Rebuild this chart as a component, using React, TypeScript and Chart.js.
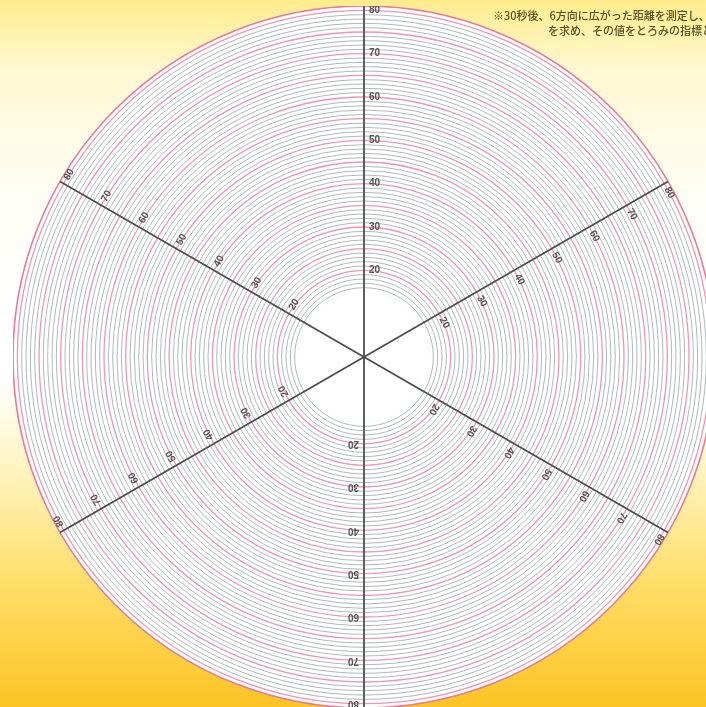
import React, { useEffect, useRef } from "react";
import { Chart, registerables } from "chart.js";

Chart.register(...registerables);

// Six measuring directions (clockwise from top)
const directions = ["上", "右上", "右下", "下", "左下", "左上"];
// Central white start circle (radius in scale units)
const holeValues = [15.2, 15.2, 15.2, 15.2, 15.2, 15.2];
// Labels printed along every axis
const tickLabels = [20, 30, 40, 50, 60, 70, 80];
// Radial scale
const scaleMin = 0;
const scaleMax = 81;
const minorStep = 1;
const majorEvery = 5;
// Note text (top right)
const noteLines = [
  "※30秒後、6方向に広がった距離を測定し、",
  "を求め、その値をとろみの指標とする。",
];

const GRAY = "#aebbb8";
const PINK = "#f295b0";
const OUTER = "#ea7a95";

const axesPlugin = {
  id: "axesPlugin",
  afterDatasetsDraw(chart: any) {
    const s = chart.scales.r;
    const ctx = chart.ctx as CanvasRenderingContext2D;
    const n = chart.data.labels.length;
    ctx.save();
    ctx.strokeStyle = "#4e4e4e";
    ctx.lineWidth = 1.8;
    for (let i = 0; i < n; i++) {
      const p = s.getPointPositionForValue(i, scaleMax);
      ctx.beginPath();
      ctx.moveTo(s.xCenter, s.yCenter);
      ctx.lineTo(p.x, p.y);
      ctx.stroke();
    }
    ctx.font = 'bold 10px "Liberation Sans", Arial, sans-serif';
    ctx.fillStyle = "#555555";
    ctx.textAlign = "left";
    ctx.textBaseline = "middle";
    for (let i = 0; i < n; i++) {
      const angle = s.getIndexAngle(i);
      for (const v of tickLabels) {
        const p = s.getPointPositionForValue(i, v);
        ctx.save();
        ctx.translate(p.x, p.y);
        ctx.rotate(angle);
        ctx.fillText(String(v), 5, 0);
        ctx.restore();
      }
    }
    ctx.restore();
  },
};

export default function App() {
  const canvasRef = useRef<HTMLCanvasElement | null>(null);

  useEffect(() => {
    if (!canvasRef.current) return;
    const chart = new Chart(canvasRef.current, {
      type: "polarArea",
      data: {
        labels: directions,
        datasets: [
          {
            data: holeValues,
            backgroundColor: "#ffffff",
            borderColor: "#ffffff",
            borderWidth: 1,
          },
        ],
      },
      options: {
        animation: false,
        responsive: true,
        maintainAspectRatio: false,
        layout: { padding: 0 },
        plugins: {
          legend: { display: false },
          tooltip: { enabled: false },
        },
        scales: {
          r: {
            min: scaleMin,
            max: scaleMax,
            backgroundColor: "#ffffff",
            angleLines: { display: false },
            pointLabels: { display: false },
            ticks: { display: false, stepSize: minorStep },
            grid: {
              circular: true,
              color: (c: any) => {
                const v = c.tick ? c.tick.value : 0;
                if (v === scaleMax) return OUTER;
                return v % majorEvery === 0 ? PINK : GRAY;
              },
              lineWidth: (c: any) => {
                const v = c.tick ? c.tick.value : 0;
                if (v === scaleMax) return 1.6;
                return v % majorEvery === 0 ? 1.3 : 1;
              },
            },
          },
        },
      },
      plugins: [axesPlugin],
    });
    return () => chart.destroy();
  }, []);

  return (
    <div
      style={{
        position: "fixed",
        left: 0,
        top: 0,
        width: 706,
        height: 707,
        overflow: "hidden",
        background:
          "linear-gradient(to bottom, #ffec8c 0px, #fff8d2 70px, #fffef6 200px, #ffffff 320px, #ffffff 380px, #fff2b8 480px, #ffdc64 590px, #fcc424 707px)",
      }}
    >
      <div style={{ position: "absolute", left: 13, top: 6, width: 702, height: 702 }}>
        <canvas ref={canvasRef} />
      </div>
      <div
        style={{
          position: "absolute",
          left: 493,
          top: 8,
          fontFamily: '"Noto Sans CJK JP", sans-serif',
          fontSize: 11,
          fontWeight: 500,
          lineHeight: "15px",
          color: "#5a4e22",
          whiteSpace: "nowrap",
        }}
      >
        <div>{noteLines[0]}</div>
        <div style={{ marginLeft: 55 }}>{noteLines[1]}</div>
      </div>
    </div>
  );
}
